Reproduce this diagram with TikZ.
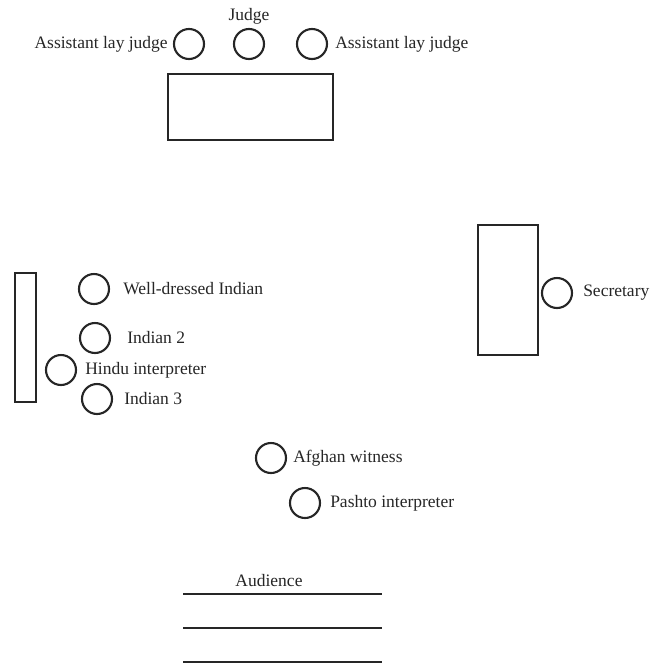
\documentclass[tikz,border=0pt]{standalone}
\usepackage{fontspec}
\setmainfont{Liberation Serif}
\usetikzlibrary{positioning}
\tikzset{
  % sittplatser
  seat/.style={circle,draw=black!85,line width=2.1pt,inner sep=0pt,minimum size=30pt},
  desk/.style={rectangle,draw=black!85,line width=1.9pt,inner sep=0pt},
  lbl/.style={font=\fontsize{17.5}{21}\selectfont,text=black!85,inner sep=2pt},
  row/.style={draw=black!85,line width=1.9pt},
}
\begin{document}
\begin{tikzpicture}[x=1pt,y=-1pt]
\useasboundingbox (0,0) rectangle (650,665);
  % domarbord
  \node[seat] (lay1) at (189,44) {};
  \node[seat] (judge) at (249,44) {};
  \node[seat] (lay2) at (312,44) {};
  \node[lbl,left=3pt of lay1] (lay1txt) {Assistant lay judge};
  \node[lbl,above=1pt of judge] (judgetxt) {Judge};
  \node[lbl,right=5pt of lay2] (lay2txt) {Assistant lay judge};
  \node[desk,minimum width=165pt,minimum height=66pt] (bench) at (250.5,107) {};
  % vänster sida
  \node[desk,minimum width=21pt,minimum height=129pt] (pew) at (25.5,337.5) {};
  \node[seat] (ind1) at (94,289) {};
  \node[seat] (ind2) at (95,338) {};
  \node[seat] (hindu) at (61,370) {};
  \node[seat] (ind3) at (97,399) {};
  \node[lbl,right=11pt of ind1] (ind1txt) {Well-dressed Indian};
  \node[lbl,right=14pt of ind2] (ind2txt) {Indian 2};
  \node[lbl,right=6pt of hindu] (hindutxt) {Hindu interpreter};
  \node[lbl,right=9pt of ind3] (ind3txt) {Indian 3};
  % protokollförare
  \node[desk,minimum width=60pt,minimum height=130pt] (secdesk) at (508,290) {};
  \node[seat] (sec) at (557,293) {};
  \node[lbl,right=8pt of sec] (sectxt) {Secretary};
  % vittne
  \node[seat] (afghan) at (271,458) {};
  \node[seat] (pashto) at (305,503) {};
  \node[lbl,right=4pt of afghan] (afghantxt) {Afghan witness};
  \node[lbl,right=7pt of pashto] (pashtotxt) {Pashto interpreter};
  % publik
  \node[lbl] (audtxt) at (269,581) {Audience};
  \foreach \y in {594,628,662}
    \draw[row] (183,\y) -- (382,\y);
\end{tikzpicture}
\end{document}
